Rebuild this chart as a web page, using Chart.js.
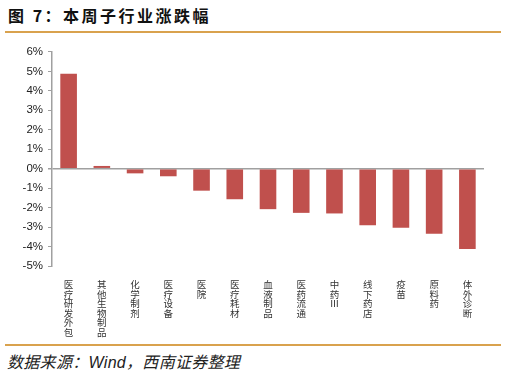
<!DOCTYPE html>
<html>
<head>
<meta charset="utf-8">
<script src="https://cdn.jsdelivr.net/npm/chart.js@4"></script>
<style>
  html, body { margin: 0; padding: 0; background: #fff; }
  body { width: 507px; height: 378px; position: relative; overflow: hidden; font-family: "Noto Sans CJK SC", sans-serif; }
  .title { position: absolute; left: 8px; top: 3px; font-size: 16px; font-weight: bold; color: #111; letter-spacing: 2.5px; }
  .rule { position: absolute; left: 5px; width: 496px; height: 2px; background: #D9A24E; }
  .src { position: absolute; left: 7px; top: 349px; font-size: 16px; font-style: italic; color: #222; letter-spacing: 0.3px; }
  .wrap { position: absolute; left: 0; top: 40px; width: 507px; height: 304px; }
</style>
</head>
<body>
<div class="title">图 7：本周子行业涨跌幅</div>
<div class="rule" style="top:31px"></div>
<div class="wrap"><canvas id="chart"></canvas></div>
<div class="rule" style="top:344px"></div>
<div class="src">数据来源：<span style="font-family:'Liberation Sans',Arial,sans-serif">Wind</span>，西南证券整理</div>
<script>
// 子行业 & 本周涨跌幅(%)
const categories = ['医疗研发外包', '其他生物制品', '化学制剂', '医疗设备', '医院', '医疗耗材', '血液制品',
    '医药流通', '中药Ⅲ', '线下药店', '疫苗', '原料药', '体外诊断'];
const changes = [4.88, 0.14, -0.24, -0.39, -1.13, -1.57, -2.08, -2.27, -2.30, -2.90, -3.04, -3.34, -4.13];
const yTicks = [6, 5, 4, 3, 2, 1, 0, -1, -2, -3, -4, -5];

// vertical labels: one char per line
const labels = categories.map(c => Array.from(c));

new Chart(document.getElementById('chart'), {
    type: 'bar',
    data: {
        labels,
        datasets: [{
            data: changes,
            backgroundColor: '#C0504D',
            borderWidth: 0,
            categoryPercentage: 1,
            barPercentage: 0.5
        }]
    },
    options: {
        responsive: true, maintainAspectRatio: false, animation: false,
        layout: { padding: { top: 10, right: 23, left: 0, bottom: 1 } },
        plugins: { legend: { display: false }, tooltip: { enabled: false } },
        scales: {
            y: {
                min: -5, max: 6,
                afterBuildTicks: s => { s.ticks = yTicks.map(v => ({ value: v })); },
                afterFit: s => { s.width = 52; },
                border: { color: '#A0A0A0', width: 1.5 },
                grid: {
                    drawOnChartArea: true,
                    color: ctx => ctx.tick && ctx.tick.value === 0 ? '#A0A0A0' : 'rgba(0,0,0,0)',
                    lineWidth: ctx => ctx.tick && ctx.tick.value === 0 ? 1.5 : 1,
                    tickColor: '#A0A0A0',
                    tickLength: 4
                },
                ticks: {
                    callback: v => v + '%',
                    padding: 5,
                    color: '#222',
                    font: { family: "'Liberation Sans', Arial, sans-serif", size: 11.5 }
                }
            },
            x: {
                grid: { display: false },
                border: { display: false },
                ticks: {
                    maxRotation: 0, minRotation: 0, autoSkip: false,
                    padding: 6,
                    color: '#333',
                    font: { family: "'Noto Sans CJK SC', sans-serif", size: 9.5, lineHeight: '9.5px' }
                }
            }
        }
    }
});
</script>
</body>
</html>
